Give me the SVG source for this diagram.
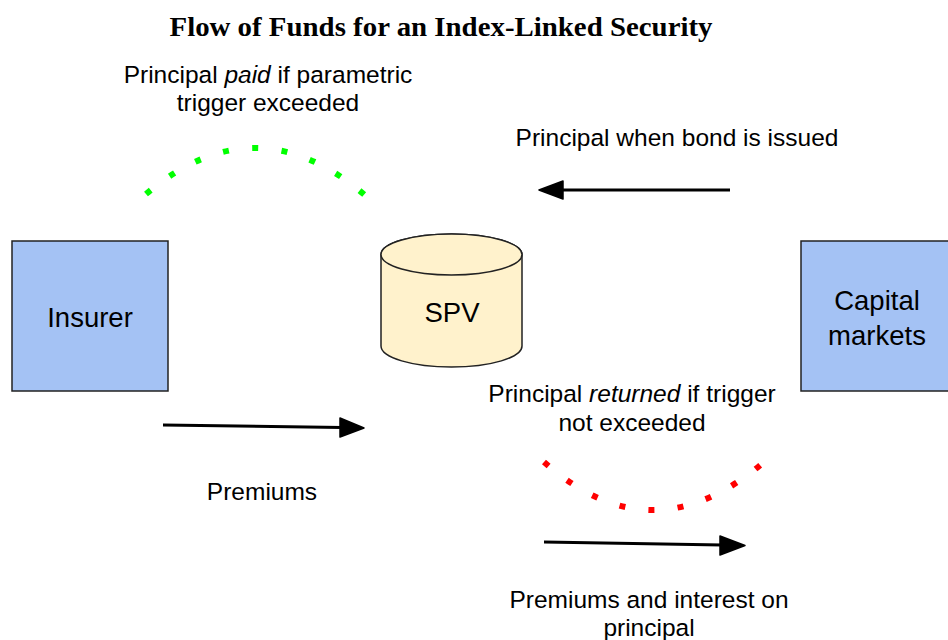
<svg xmlns="http://www.w3.org/2000/svg" width="948" height="640" viewBox="0 0 948 640">
<style>
.lbl{font-family:"Liberation Sans",Arial,sans-serif;font-size:24.5px;fill:#000;text-anchor:middle}
.node{font-family:"Liberation Sans",Arial,sans-serif;font-size:27.5px;fill:#000;text-anchor:middle}
.title{font-family:"Liberation Serif","Times New Roman",serif;font-size:27px;font-weight:bold;fill:#000;text-anchor:middle}
.box{fill:#a4c2f4;stroke:#222;stroke-width:1.5}
.cyl{fill:#fff2cc;stroke:#222;stroke-width:1.5}
.head{fill:#000;stroke:#000;stroke-width:1.5;stroke-linejoin:round}
.shaft{stroke:#000;stroke-width:3}
</style>
<rect width="948" height="640" fill="#fff"/>
<text class="title" x="441" y="36" textLength="543" lengthAdjust="spacingAndGlyphs">Flow of Funds for an Index-Linked Security</text>
<g id="insurer">
<rect class="box" x="12" y="241" width="156" height="150"/>
<text class="node" x="90" y="327">Insurer</text>
</g>
<g id="capital-markets">
<rect class="box" x="801" y="241" width="160" height="150"/>
<text class="node" x="877" y="310">Capital</text>
<text class="node" x="877" y="345">markets</text>
</g>
<g id="spv">
<path class="cyl" d="M381,254.5 L381,346 A70.5,21 0 0 0 522,346 L522,254.5 A70.5,20.5 0 0 0 381,254.5 Z"/>
<ellipse class="cyl" cx="451.5" cy="254.5" rx="70.5" ry="20.5"/>
<text class="node" x="452" y="322">SPV</text>
</g>
<g id="connectors">
<path d="M146,194 Q256,101 366,196" fill="none" stroke="#00ff00" stroke-width="6" stroke-dasharray="6 23.5"/>
<path d="M544,462 Q652,558 764,462" fill="none" stroke="#ff0000" stroke-width="6" stroke-dasharray="6 23.3"/>
<line class="shaft" x1="730" y1="190" x2="560" y2="190"/>
<path class="head" d="M563,181 L539,190 L563,199 Z"/>
<line class="shaft" x1="163" y1="425" x2="342" y2="427.5"/>
<path class="head" d="M340,418 L364,428 L340,437 Z"/>
<line class="shaft" x1="544" y1="542" x2="722" y2="545"/>
<path class="head" d="M720,536 L745,545.5 L720,555 Z"/>
</g>
<g id="labels">
<text class="lbl" x="268" y="83">Principal <tspan font-style="italic">paid</tspan> if parametric</text>
<text class="lbl" x="268" y="111">trigger exceeded</text>
<text class="lbl" x="677" y="146">Principal when bond is issued</text>
<text class="lbl" x="632" y="402">Principal <tspan font-style="italic">returned</tspan> if trigger</text>
<text class="lbl" x="632" y="431">not exceeded</text>
<text class="lbl" x="262" y="500">Premiums</text>
<text class="lbl" x="649" y="608">Premiums and interest on</text>
<text class="lbl" x="649" y="636">principal</text>
</g>
</svg>
